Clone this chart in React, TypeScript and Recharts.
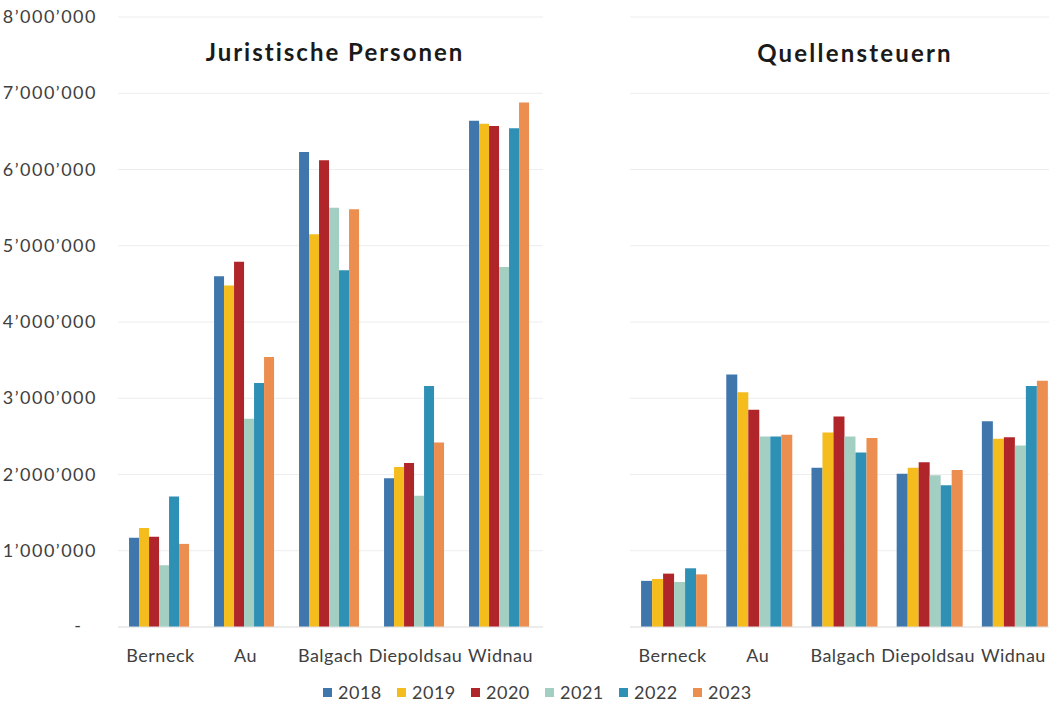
import React from "react";
import { BarChart, Bar, XAxis, YAxis, CartesianGrid } from "recharts";

const categories = ["Berneck", "Au", "Balgach", "Diepoldsau", "Widnau"];
const years = ["2018", "2019", "2020", "2021", "2022", "2023"];
const colors = ["#3f77ad", "#f4bc1c", "#b0252a", "#a3cfc3", "#2f90b6", "#ec8e4f"];
const yTicks = [0, 1000000, 2000000, 3000000, 4000000, 5000000, 6000000, 7000000, 8000000];

// Juristische Personen
const jp2018 = [1170000, 4600000, 6230000, 1950000, 6640000];
const jp2019 = [1300000, 4480000, 5150000, 2100000, 6600000];
const jp2020 = [1185000, 4790000, 6120000, 2150000, 6570000];
const jp2021 = [810000, 2730000, 5500000, 1720000, 4720000];
const jp2022 = [1710000, 3200000, 4680000, 3160000, 6540000];
const jp2023 = [1090000, 3540000, 5480000, 2420000, 6880000];

// Quellensteuern
const qs2018 = [605000, 3310000, 2090000, 2010000, 2700000];
const qs2019 = [630000, 3080000, 2550000, 2090000, 2470000];
const qs2020 = [700000, 2850000, 2760000, 2160000, 2490000];
const qs2021 = [590000, 2500000, 2500000, 1990000, 2380000];
const qs2022 = [770000, 2500000, 2290000, 1860000, 3160000];
const qs2023 = [690000, 2520000, 2480000, 2060000, 3230000];

const jpSeries = [jp2018, jp2019, jp2020, jp2021, jp2022, jp2023];
const qsSeries = [qs2018, qs2019, qs2020, qs2021, qs2022, qs2023];

const buildRows = (series: number[][]) =>
  categories.map((name, i) => {
    const row: Record<string, any> = { name };
    years.forEach((y, j) => {
      row["y" + y] = series[j][i];
    });
    return row;
  });

const jpData = buildRows(jpSeries);
const qsData = buildRows(qsSeries);

const FONT = "Lato, 'Open Sans', sans-serif";
const TEXT = "#404040";

const fmt = (v: number) => {
  const s = String(Math.round(v));
  return s.replace(/\B(?=(\d{3})+(?!\d))/g, "\u2019");
};

const YTick = (props: any) => {
  const { x, y, payload } = props;
  const v = payload.value;
  if (v === 0) {
    return (
      <text x={x - 16} y={y} dy={5} textAnchor="end" fill={TEXT} fontSize={18} fontFamily={FONT}>
        -
      </text>
    );
  }
  return (
    <text
      x={x}
      y={y}
      dy={6}
      textAnchor="end"
      fill={TEXT}
      fontSize={18}
      fontFamily={FONT}
      letterSpacing={1.5}
    >
      {fmt(v)}
    </text>
  );
};

const XTick = (props: any) => {
  const { x, y, payload } = props;
  return (
    <text
      x={x}
      y={y}
      dy={21}
      textAnchor="middle"
      fill={TEXT}
      fontSize={18}
      fontFamily={FONT}
      letterSpacing={0.5}
    >
      {payload.value}
    </text>
  );
};

const renderBars = () =>
  years.map((y, j) => (
    <Bar key={y} dataKey={"y" + y} fill={colors[j]} isAnimationActive={false} />
  ));

const titleStyle: React.CSSProperties = {
  position: "absolute",
  width: 400,
  textAlign: "center",
  fontSize: 24,
  fontWeight: 700,
  color: "#1a1a1a",
  letterSpacing: 2,
};

export default function App() {
  return (
    <div
      style={{
        position: "absolute",
        left: 0,
        top: 0,
        width: 1049,
        height: 708,
        overflow: "hidden",
        background: "#fff",
        fontFamily: FONT,
      }}
    >
      <div style={{ ...titleStyle, left: 135, top: 37 }}>Juristische Personen</div>
      <div style={{ ...titleStyle, left: 655, top: 38, letterSpacing: 2.2 }}>Quellensteuern</div>

      <div style={{ position: "absolute", left: 0, top: 0 }}>
        <BarChart
          width={545}
          height={677}
          data={jpData}
          margin={{ top: 17, right: 2, left: 0, bottom: 0 }}
          barCategoryGap="13%"
          barGap={0}
        >
          <CartesianGrid vertical={false} stroke="#ededed" />
          <XAxis
            dataKey="name"
            height={50}
            axisLine={{ stroke: "#e2e2e2" }}
            tickLine={false}
            tickSize={0}
            tickMargin={14}
            tick={<XTick />}
            interval={0}
          />
          <YAxis
            width={118}
            domain={[0, 8000000]}
            ticks={yTicks}
            axisLine={false}
            tickLine={false}
            tickSize={0}
            tickMargin={21}
            tick={<YTick />}
            interval={0}
          />
          {renderBars()}
        </BarChart>
      </div>

      <div style={{ position: "absolute", left: 630, top: 0 }}>
        <BarChart
          width={426}
          height={677}
          data={qsData}
          margin={{ top: 17, right: 0, left: 0, bottom: 0 }}
          barCategoryGap="13%"
          barGap={0}
        >
          <CartesianGrid vertical={false} stroke="#ededed" />
          <XAxis
            dataKey="name"
            height={50}
            axisLine={{ stroke: "#e2e2e2" }}
            tickLine={false}
            tickSize={0}
            tickMargin={14}
            tick={<XTick />}
            interval={0}
          />
          <YAxis hide domain={[0, 8000000]} ticks={yTicks} />
          {renderBars()}
        </BarChart>
      </div>

      <div
        style={{
          position: "absolute",
          left: 323,
          top: 681,
          display: "flex",
          fontSize: 18,
          color: TEXT,
          lineHeight: "22px",
        }}
      >
        {years.map((y, j) => (
          <div key={y} style={{ display: "flex", alignItems: "center", width: 74 }}>
            <span
              style={{
                display: "inline-block",
                width: 9,
                height: 9,
                background: colors[j],
                marginRight: 6,
              }}
            />
            <span style={{ letterSpacing: 0.5 }}>{y}</span>
          </div>
        ))}
      </div>
    </div>
  );
}
